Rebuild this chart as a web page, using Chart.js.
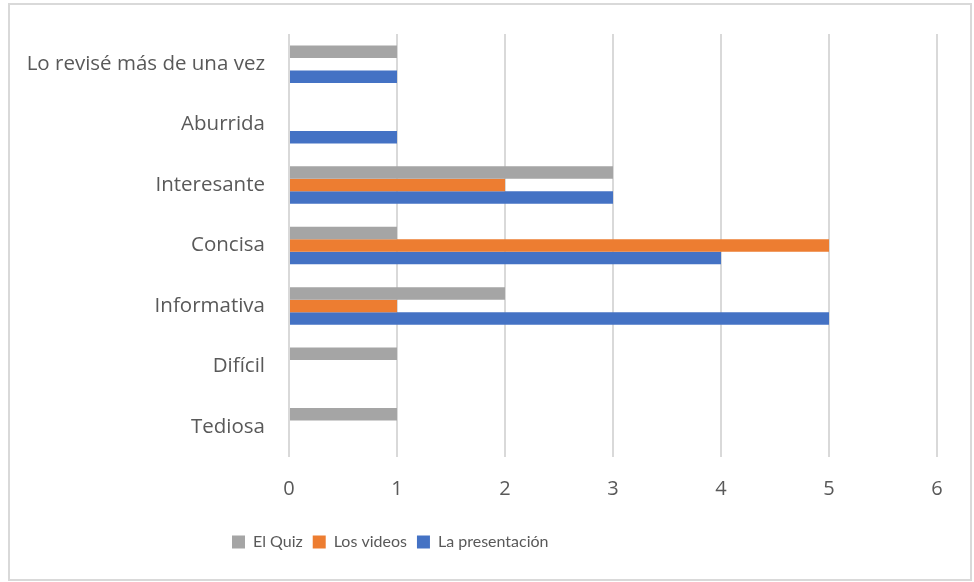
<!DOCTYPE html>
<html>
<head>
<meta charset="utf-8">
<script src="https://cdn.jsdelivr.net/npm/chart.js@4.4.1/dist/chart.umd.min.js"></script>
<style>
  html, body { margin: 0; padding: 0; background: #fff; }
  #wrap { position: relative; width: 974px; height: 582px; }
  #frame {
    position: absolute; left: 8px; top: 3px; width: 964px; height: 578px;
    box-sizing: border-box; border: 2px solid #d9d9d9; pointer-events: none;
  }
  canvas { position: absolute; left: 0; top: 0; }
</style>
</head>
<body>
<div id="wrap">
  <canvas id="chart" width="974" height="582"></canvas>
  <div id="frame"></div>
</div>
<script>
// categories top → bottom (Chart.js draws the first label at the top)
const categories = ['Lo revisé más de una vez', 'Aburrida', 'Interesante', 'Concisa', 'Informativa', 'Difícil', 'Tediosa'];
const quiz         = [1, 0, 3, 1, 2, 1, 1];
const videos       = [0, 0, 2, 5, 1, 0, 0];
const presentacion = [1, 1, 3, 4, 5, 0, 0];
const xTicks = [0, 1, 2, 3, 4, 5, 6];

const AXIS_FONT = '"Open Sans", Lato, sans-serif';
const LEGEND_FONT = 'Lato, "Open Sans", sans-serif';
const TEXT = '#595959';

// nudge the legend so it starts where the Excel one does
const legendShift = {
    id: 'legendShift',
    afterLayout(chart) {
        const lg = chart.legend;
        if (!lg) return;
        const w = lg.right - lg.left;
        lg.left = 222;
        lg.right = lg.left + w;
    }
};

new Chart(document.getElementById('chart').getContext('2d'), {
    type: 'bar',
    data: {
        labels: categories,
        datasets: [
            { label: 'El Quiz',         data: quiz,         backgroundColor: '#A5A5A5' },
            { label: 'Los videos',      data: videos,       backgroundColor: '#ED7D31' },
            { label: 'La presentación', data: presentacion, backgroundColor: '#4472C4' }
        ]
    },
    options: {
        indexAxis: 'y',
        responsive: false,
        animation: false,
        datasets: { bar: { categoryPercentage: 0.62, barPercentage: 1.0 } },
        layout: { padding: { left: 0, top: 34, right: 37, bottom: 22 } },
        scales: {
            x: {
                min: 0, max: 6,
                afterBuildTicks: s => { s.ticks = xTicks.map(v => ({ value: v })); },
                afterFit: s => { s.height = 67; },
                grid: { color: '#d9d9d9', lineWidth: 2, drawTicks: false },
                border: { display: false },
                ticks: { color: TEXT, padding: 20, font: { family: AXIS_FONT, size: 20 } }
            },
            y: {
                afterFit: s => { s.width = 289; },
                grid: { display: false },
                border: { display: false },
                ticks: { color: TEXT, padding: 16, font: { family: AXIS_FONT, size: 20.5 } }
            }
        },
        plugins: {
            legend: {
                position: 'bottom',
                align: 'start',
                labels: {
                    color: TEXT,
                    boxWidth: 13, boxHeight: 13,
                    padding: 10,
                    font: { family: LEGEND_FONT, size: 16 }
                }
            },
            tooltip: { enabled: false }
        }
    },
    plugins: [legendShift]
});
</script>
</body>
</html>
